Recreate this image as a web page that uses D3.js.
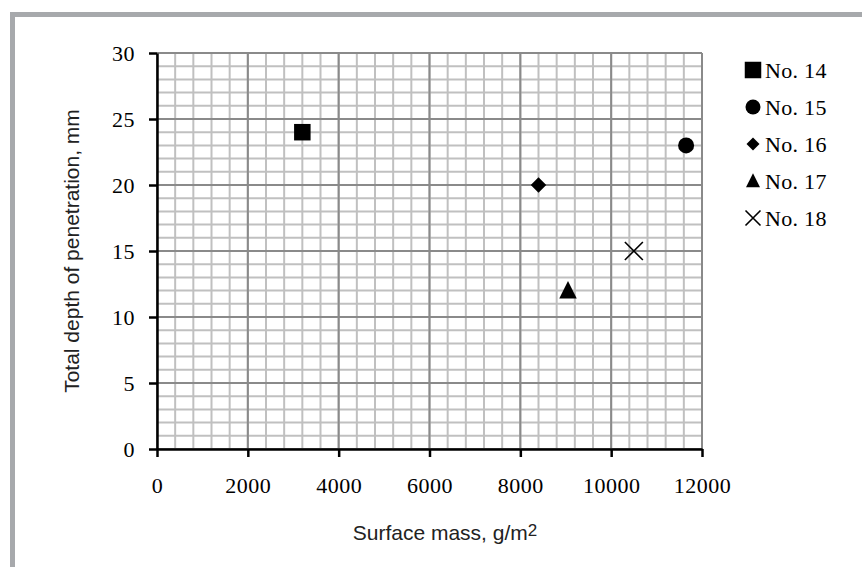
<!DOCTYPE html>
<html><head><meta charset="utf-8">
<script src="https://cdn.jsdelivr.net/npm/d3@7"></script>
<style>
html,body{margin:0;padding:0;background:#fff;}
svg{display:block;}
</style>
</head><body>
<svg id="c" width="862" height="567"></svg>
<script>
const seriesNames = ["No. 14","No. 15","No. 16","No. 17","No. 18"];
const seriesSymbols = ["square","circle","diamond","triangle","cross"];
const xValues = [3200, 11650, 8400, 9050, 10500];
const yValues = [24, 23, 20, 12, 15];
const xTicks = [0,2000,4000,6000,8000,10000,12000];
const yTicks = [0,5,10,15,20,25,30];
const xMinor = d3.range(0, 12001, 400);
const yMinor = d3.range(0, 31, 1);
const xTitle = "Surface mass, g/m";
const xTitleSup = "2";
const yTitle = "Total depth of penetration, mm";

const svg = d3.select("#c");
// frame
svg.append("line").attr("x1",10).attr("x2",862).attr("y1",14.5).attr("y2",14.5).attr("stroke","#a7a9ac").attr("stroke-width",5);
svg.append("line").attr("x1",12.5).attr("x2",12.5).attr("y1",12).attr("y2",567).attr("stroke","#a7a9ac").attr("stroke-width",5);

const x = d3.scaleLinear().domain([0,12000]).range([157,702]);
const y = d3.scaleLinear().domain([0,30]).range([449,53]);

const g = svg.append("g");
// minor grid
g.selectAll(".mx").data(xMinor).join("line")
  .attr("x1",d=>x(d)).attr("x2",d=>x(d)).attr("y1",y(0)).attr("y2",y(30))
  .attr("stroke","#c0c0c0").attr("stroke-width",2);
g.selectAll(".my").data(yMinor).join("line")
  .attr("x1",x(0)).attr("x2",x(12000)).attr("y1",d=>y(d)).attr("y2",d=>y(d))
  .attr("stroke","#c0c0c0").attr("stroke-width",2);
// major grid
g.selectAll(".Mx").data(xTicks).join("line")
  .attr("x1",d=>x(d)).attr("x2",d=>x(d)).attr("y1",y(0)).attr("y2",y(30))
  .attr("stroke","#8a8a8a").attr("stroke-width",2);
g.selectAll(".My").data(yTicks).join("line")
  .attr("x1",x(0)).attr("x2",x(12000)).attr("y1",d=>y(d)).attr("y2",d=>y(d))
  .attr("stroke","#8a8a8a").attr("stroke-width",2);

// axes
const xAxis = d3.axisBottom(x).tickValues(xTicks).tickFormat(d3.format("d")).tickSize(8).tickPadding(20).tickSizeOuter(0);
const yAxis = d3.axisLeft(y).tickValues(yTicks).tickFormat(d3.format("d")).tickSize(8).tickPadding(14).tickSizeOuter(0);
const gx = svg.append("g").attr("transform",`translate(0,${y(0)})`).call(xAxis);
const gy = svg.append("g").attr("transform",`translate(${x(0)},0)`).call(yAxis);
[gx,gy].forEach(a=>{
  a.select(".domain").attr("stroke","#000").attr("stroke-width",2.5);
  a.selectAll(".tick line").attr("stroke","#000").attr("stroke-width",2.5);
  a.selectAll("text").attr("fill","#000").style("font-family","'Liberation Serif','Times New Roman',serif").style("font-size","22px").style("letter-spacing","0.5px");
});

// symbols (w = full width in px)
function drawSym(sel, s, w){
  const h = w/2;
  if(s==="square") sel.append("rect").attr("x",-h).attr("y",-h).attr("width",w).attr("height",w).attr("fill","#000");
  else if(s==="circle") sel.append("circle").attr("r",h).attr("fill","#000");
  else if(s==="diamond") sel.append("path").attr("d",`M0,${-h}L${h},0L0,${h}L${-h},0Z`).attr("fill","#000");
  else if(s==="triangle") sel.append("path").attr("d",`M0,${-h*1.1}L${h},${h*0.9}L${-h},${h*0.9}Z`).attr("fill","#000");
  else if(s==="cross") sel.append("path").attr("d",`M${-h},${-h}L${h},${h}M${h},${-h}L${-h},${h}`).attr("fill","none").attr("stroke","#000").attr("stroke-width",1.6);
}
const plotSize = {square:16.5, circle:16, diamond:15.5, triangle:17.5, cross:18};
const legSize = {square:16.5, circle:15, diamond:13, triangle:14, cross:15};
seriesNames.forEach((n,i)=>{
  const gg = svg.append("g").attr("transform",`translate(${x(xValues[i])},${y(yValues[i])})`);
  drawSym(gg, seriesSymbols[i], plotSize[seriesSymbols[i]]);
});

// legend
const leg = svg.append("g");
seriesNames.forEach((n,i)=>{
  const cy = 70 + i*37;
  const gg = leg.append("g").attr("transform",`translate(753,${cy})`);
  drawSym(gg, seriesSymbols[i], legSize[seriesSymbols[i]]);
  leg.append("text").attr("x",765).attr("y",cy+7.5).text(n)
    .attr("fill","#000").style("font-family","'Liberation Serif','Times New Roman',serif").style("font-size","22px").style("letter-spacing","0.3px");
});

// titles
const xt = svg.append("text").attr("x",445).attr("y",540).attr("text-anchor","middle")
  .attr("fill","#222").style("font-family","'Liberation Sans',Arial,sans-serif").style("font-size","21px");
xt.append("tspan").text(xTitle);
xt.append("tspan").text(xTitleSup).style("font-size","17px").attr("dy",-4);
svg.append("text").attr("transform","translate(79,251) rotate(-90)").attr("text-anchor","middle")
  .attr("fill","#222").style("font-family","'Liberation Sans',Arial,sans-serif").style("font-size","21px").text(yTitle);
</script>
</body></html>
